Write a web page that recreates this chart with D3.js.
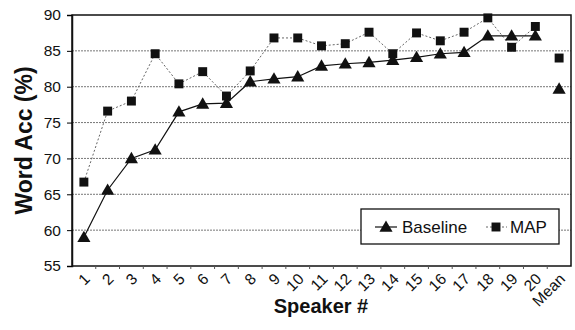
<!DOCTYPE html>
<html><head><meta charset="utf-8">
<script src="https://cdn.jsdelivr.net/npm/d3@7"></script>
<style>body{margin:0;background:#fff}svg{display:block}text{font-family:"Liberation Sans",Arial,sans-serif}</style>
</head><body>
<svg id="c" width="575" height="330"></svg>
<script>
const categories = ["1","2","3","4","5","6","7","8","9","10","11","12","13","14","15","16","17","18","19","20","Mean"];
const baseline = [59.0,65.6,70.0,71.2,76.5,77.6,77.7,80.7,81.1,81.4,82.9,83.2,83.4,83.7,84.1,84.6,84.8,87.1,87.1,87.1,79.7];
const map = [66.7,76.6,78.0,84.6,80.4,82.1,78.7,82.2,86.8,86.8,85.7,86.0,87.6,84.6,87.5,86.4,87.6,89.6,85.5,88.4,84.0];
const yTicks = [55,60,65,70,75,80,85,90];

const svg = d3.select("#c");
const L=72, R=571, T=15, B=266;
const x = d3.scaleBand().domain(categories).range([L,R]);
const y = d3.scaleLinear().domain([55,90]).range([B,T]);
const cx = d => x(d)+x.bandwidth()/2;

// gridlines
svg.append("g").selectAll("line").data(yTicks.slice(1,-1)).join("line")
  .attr("x1",L).attr("x2",R).attr("y1",d=>y(d)).attr("y2",d=>y(d))
  .attr("stroke","#777").attr("stroke-width",1).attr("stroke-dasharray","2,1");

// frame
svg.append("rect").attr("x",L).attr("y",T).attr("width",R-L).attr("height",B-T)
  .attr("fill","none").attr("stroke","#111").attr("stroke-width",1.5);

// y axis
const ya = svg.append("g").attr("transform",`translate(${L},0)`)
  .call(d3.axisLeft(y).tickValues(yTicks).tickSize(5).tickPadding(6));
ya.select(".domain").attr("stroke","#111").attr("stroke-width",1.5);
ya.selectAll("text").attr("font-size",15.5).attr("fill","#111");

// x axis
const xa = svg.append("g").attr("transform",`translate(0,${B})`)
  .call(d3.axisBottom(x).tickSize(0).tickPadding(0));
xa.select(".domain").remove();
xa.selectAll(".tick text").attr("font-size",15.5).attr("fill","#111")
  .attr("text-anchor","end").attr("dy",0)
  .attr("transform","translate(7,14) rotate(-45)");
svg.append("g").selectAll("line").data(categories.slice(1)).join("line")
  .attr("x1",d=>x(d)).attr("x2",d=>x(d)).attr("y1",B).attr("y2",B+3)
  .attr("stroke","#555").attr("stroke-width",1);

// titles
svg.append("text").attr("transform",`translate(32,${(T+B)/2}) rotate(-90)`)
  .attr("text-anchor","middle").attr("font-size",23).attr("font-weight","bold").attr("fill","#111").text("Word Acc (%)");
svg.append("text").attr("x",321).attr("y",313).attr("text-anchor","middle")
  .attr("font-size",20).attr("font-weight","bold").attr("fill","#111").text("Speaker #");

const n = 20;
const line = d3.line().x((d,i)=>cx(categories[i])).y(d=>y(d));
svg.append("path").attr("d",line(map.slice(0,n))).attr("fill","none")
  .attr("stroke","#666").attr("stroke-width",1).attr("stroke-dasharray","2,2");
svg.append("path").attr("d",line(baseline.slice(0,n))).attr("fill","none")
  .attr("stroke","#111").attr("stroke-width",1.2);

const tri = d3.symbol().type(d3.symbolTriangle).size(75);
const sq = d3.symbol().type(d3.symbolSquare).size(80);
svg.append("g").selectAll("path").data(map).join("path")
  .attr("d",sq).attr("transform",(d,i)=>`translate(${cx(categories[i])},${y(d)})`).attr("fill","#111");
svg.append("g").selectAll("path").data(baseline).join("path")
  .attr("d",tri).attr("transform",(d,i)=>`translate(${cx(categories[i])},${y(d)+1})`).attr("fill","#111");

// legend
const lg = svg.append("g");
lg.append("rect").attr("x",361).attr("y",209).attr("width",198).attr("height",35)
  .attr("fill","#fff").attr("stroke","#111").attr("stroke-width",1.3);
lg.append("line").attr("x1",375).attr("x2",397).attr("y1",227).attr("y2",227).attr("stroke","#111").attr("stroke-width",1.2);
lg.append("path").attr("d",tri).attr("transform","translate(386,228)").attr("fill","#111");
lg.append("text").attr("x",402).attr("y",233).attr("font-size",17).attr("fill","#111").text("Baseline");
lg.append("line").attr("x1",486).attr("x2",507).attr("y1",227).attr("y2",227).attr("stroke","#666").attr("stroke-dasharray","2,2");
lg.append("path").attr("d",sq).attr("transform","translate(496,227)").attr("fill","#111");
lg.append("text").attr("x",510).attr("y",233).attr("font-size",17).attr("fill","#111").text("MAP");
</script>
</body></html>
